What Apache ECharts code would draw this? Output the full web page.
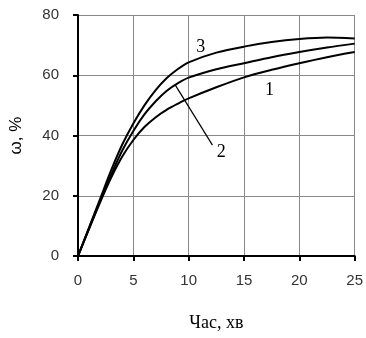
<!DOCTYPE html>
<html><head><meta charset="utf-8">
<script src="https://cdn.jsdelivr.net/npm/echarts@6/dist/echarts.min.js"></script>
<style>html,body{margin:0;padding:0;background:#fff}#c{width:366px;height:338px}</style>
</head><body><div id="c"></div>
<script>
const xValues = [0, 1, 2, 3, 4, 5, 6, 7, 8, 9, 10, 12.5, 15, 17.5, 20, 22.5, 25];
const curve1 = [0, 9, 17.8, 26, 33, 38.5, 42.8, 46, 48.5, 50.5, 52.3, 56, 59.3, 61.8, 64, 66, 67.7];
const curve2 = [0, 9.2, 18.3, 27, 35, 41.5, 47, 51.3, 54.8, 57.3, 59.2, 62, 64, 66, 67.7, 69.2, 70.5];
const curve3 = [0, 9.5, 19, 28.5, 37, 44, 50, 55, 59, 62, 64.3, 67.5, 69.5, 71, 72, 72.5, 72.2];
const curveLabels = [
  {name: '1', at: [17.3, 55.1]},
  {name: '2', at: [12.95, 34.3]},
  {name: '3', at: [11.1, 69.4]}
];
const leader2 = [[8.78, 56.8], [12.15, 36.8]];

const pairs = arr => xValues.map((x, i) => [x, arr[i]]);
const lineStyle = {color: '#000', width: 2};
const chart = echarts.init(document.getElementById('c'), null, {renderer: 'canvas'});
chart.setOption({
  animation: false,
  grid: {left: 76, right: 8, top: 15, bottom: 82},
  xAxis: {
    type: 'value', min: 0, max: 25, interval: 5,
    name: 'Час, хв', nameLocation: 'middle', nameGap: 58,
    nameTextStyle: {fontFamily: 'Liberation Serif', fontSize: 18, color: '#000'},
    axisLine: {lineStyle: {color: '#000', width: 2}},
    axisTick: {show: true, length: 5, lineStyle: {color: '#000', width: 2}},
    axisLabel: {fontFamily: 'Liberation Sans', fontSize: 15, color: '#333', margin: 17},
    splitLine: {show: true, lineStyle: {color: '#888', width: 1}}
  },
  yAxis: {
    type: 'value', min: 0, max: 80, interval: 20,
    name: 'ω, %', nameLocation: 'middle', nameGap: 53,
    nameTextStyle: {fontFamily: 'Liberation Sans', fontSize: 17, color: '#000'},
    axisLine: {show: true, lineStyle: {color: '#000', width: 2}},
    axisTick: {show: true, length: 5, lineStyle: {color: '#000', width: 2}},
    axisLabel: {fontFamily: 'Liberation Sans', fontSize: 15, color: '#333', margin: 19},
    splitLine: {show: true, lineStyle: {color: '#888', width: 1}}
  },
  series: [
    {type: 'line', data: pairs(curve1), smooth: 0.3, showSymbol: false, lineStyle},
    {type: 'line', data: pairs(curve2), smooth: 0.3, showSymbol: false, lineStyle,
     markLine: {silent: true, symbol: 'none', label: {show: false},
       lineStyle: {color: '#000', width: 1.2, type: 'solid'},
       data: [[{coord: leader2[0]}, {coord: leader2[1]}]]}},
    {type: 'line', data: pairs(curve3), smooth: 0.3, showSymbol: false, lineStyle,
     markPoint: {silent: true, symbol: 'circle', symbolSize: 0,
       label: {show: true, position: 'inside', fontFamily: 'Liberation Serif', fontSize: 18, color: '#000',
         formatter: p => p.name},
       data: curveLabels.map(l => ({name: l.name, coord: l.at}))}}
  ]
});
</script></body></html>
